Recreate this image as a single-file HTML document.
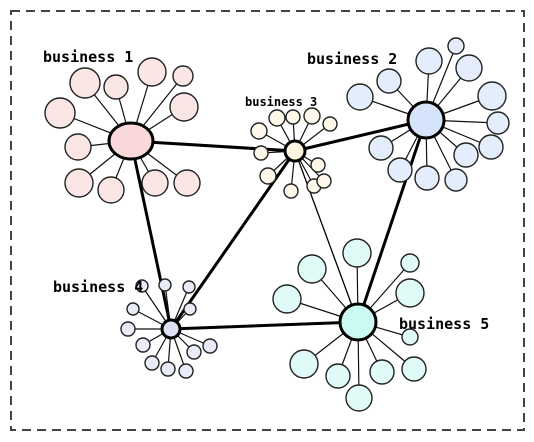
<!DOCTYPE html>
<html><head><meta charset="utf-8"><style>
html,body{margin:0;padding:0;background:#fff;}
svg{display:block;}
text{font-family:"DejaVu Sans Mono","Liberation Mono",monospace;fill:#000;}
</style></head><body>
<svg id="chart" width="534" height="442" viewBox="0 0 534 442" xmlns="http://www.w3.org/2000/svg">
<rect x="11" y="11" width="513" height="419" fill="none" stroke="#444" stroke-width="2" stroke-dasharray="9,6"/>
<g id="edges"></g><g id="spokes"></g><g id="nodes"></g><g id="labels"></g>
</svg>
<script>
const hubNames=["business 1","business 2","business 3","business 4","business 5"];
const hubX=[131,426,295,171,358];
const hubY=[141,120,151,329,322];
const hubR=[20,18,10,9,18];
const hubColor=["#f8d8d8","#d6e4fb","#fdf6e0","#dde0f5","#cbfaf3"];
const satColor=["#fbe6e6","#e4edfc","#fdf8e9","#e9ebf8","#e0fbf7"];
const linkFrom=[0,0,2,2,2,1,3];
const linkTo=[2,3,1,3,4,4,4];
const linkWidth=[3,3,3,3,1.3,3,3];
const labelX=[43,307,245,53,399];
const labelY=[62,64,106,292,329];
const labelSize=[15,15,12,15,15];
const satHub=[0,0,0,0,0,0,0,0,0,0,0, 1,1,1,1,1,1,1,1,1,1,1,1,1, 2,2,2,2,2,2,2,2,2,2,2, 3,3,3,3,3,3,3,3,3,3,3,3, 4,4,4,4,4,4,4,4,4,4,4];
const satX=[85,116,152,183,184,60,78,79,111,155,187, 360,389,429,456,469,492,498,491,466,456,427,400,381, 259,277,293,312,330,261,268,291,314,324,318, 142,165,189,133,128,143,152,168,186,194,210,190, 357,312,287,410,410,410,304,338,382,414,359];
const satY=[83,87,72,76,107,113,147,183,190,183,183, 97,81,61,46,68,96,123,147,155,180,178,170,148, 131,118,117,116,124,153,176,191,186,181,165, 286,285,287,309,329,345,363,369,371,352,346,309, 253,269,299,263,293,337,364,376,372,369,398];
const satR=[14,11,13,9,13,14,12,13,12,12,12, 12,11,12,7,12,13,10,11,11,10,11,11,11, 7,7,6,7,6,6,7,6,6,6,6, 5,5,5,5,6,6,6,6,6,6,6,5, 13,13,13,8,13,7,13,11,11,11,12];
const NS="http://www.w3.org/2000/svg";
function mk(t,a,p){const e=document.createElementNS(NS,t);for(const k in a)e.setAttribute(k,a[k]);p.appendChild(e);return e;}
const E=document.getElementById('edges'),S=document.getElementById('spokes'),N=document.getElementById('nodes'),L=document.getElementById('labels');
for(let i=0;i<linkFrom.length;i++){
 const a=linkFrom[i],b=linkTo[i];
 const el=mk('line',{x1:hubX[a],y1:hubY[a],x2:hubX[b],y2:hubY[b],stroke:'#000','stroke-width':linkWidth[i]},E);
 
 
}
for(let i=0;i<satX.length;i++){
 const h=satHub[i];
 const sp=mk('line',{x1:hubX[h],y1:hubY[h],x2:satX[i],y2:satY[i],stroke:'#111','stroke-width':1.2},S);
 
 
 const c=mk('circle',{cx:satX[i],cy:satY[i],r:satR[i]+1,fill:satColor[h],stroke:'#222','stroke-width':1.4},N);
 
 
}
for(let h=0;h<hubX.length;h++){
 const rx=h===0?22:hubR[h], ry=h===0?18:hubR[h];
 const c=mk('ellipse',{cx:hubX[h],cy:hubY[h],rx:rx,ry:ry,fill:hubColor[h],stroke:'#000','stroke-width':3},N);
 
 
 const t=mk('text',{x:labelX[h],y:labelY[h],'font-size':labelSize[h],'font-weight':'bold'},L);
 t.textContent=hubNames[h];
 
 
}
</script>
</body></html>
